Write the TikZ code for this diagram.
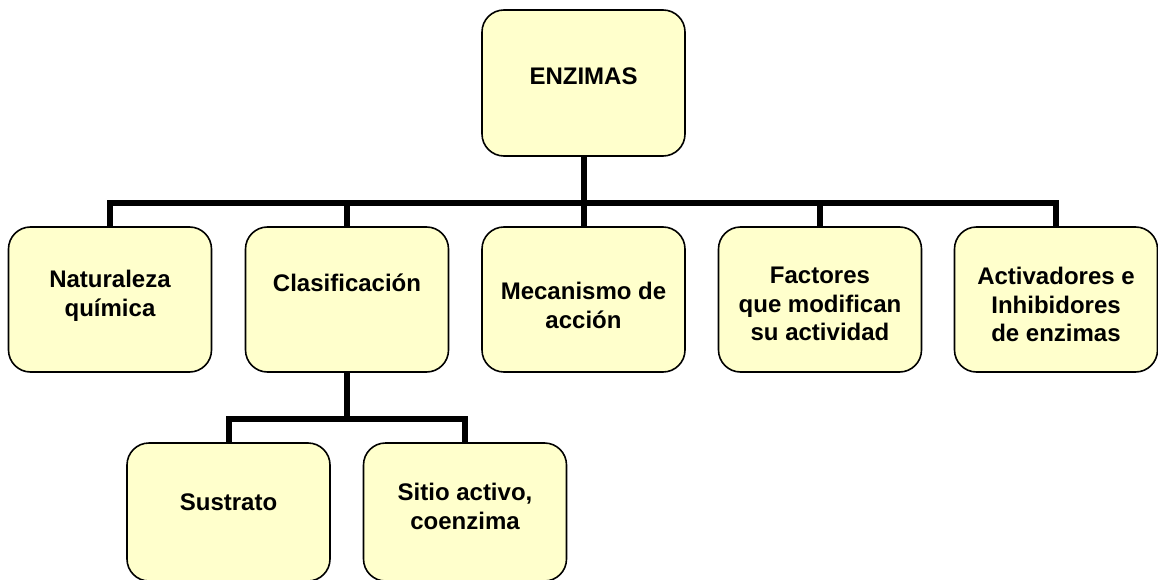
\documentclass[tikz,border=0pt]{standalone}
\usepackage{fontspec}
\setmainfont{Liberation Sans}
\usetikzlibrary{backgrounds}
\definecolor{boxfill}{HTML}{FFFFCC}
\begin{document}
\begin{tikzpicture}[x=1pt,y=-1pt,
  box/.style={draw=black,line width=1.6pt,fill=boxfill,rounded corners=22pt,
    minimum width=203pt,inner sep=0pt,outer sep=0pt},
  rowbox/.style={box,minimum height=145pt},
  lbl/.style={anchor=north,inner sep=0pt,align=center,
    font=\fontsize{24}{28.5}\selectfont\bfseries},
  conn/.style={line width=6pt}]
\useasboundingbox (0,0) rectangle (1158,580);
\clip (0,0) rectangle (1158,580);
% boxes
\node[box,minimum height=146pt] (enz) at (583.5,83) {};
\node[rowbox] (nat) at (110,299.5) {};
\node[rowbox] (clas) at (347,299.5) {};
\node[rowbox] (mec) at (583.5,299.5) {};
\node[rowbox] (fact) at (820,299.5) {};
\node[rowbox] (act) at (1056,299.5) {};
\node[box,minimum height=138pt] (sus) at (228.5,512) {};
\node[box,minimum height=138pt] (sit) at (465,512) {};
% bus coordinates
\coordinate (bus) at (583.5,203);
\coordinate (subbus) at (347,419);
% connectors behind the boxes
\begin{scope}[on background layer]
\draw[conn] (enz.south) -- (bus);
\draw[conn] (nat.north) |- (bus) -| (act.north);
\draw[conn] (clas.north) -- (clas.north |- bus);
\draw[conn] (mec.north) -- (mec.north |- bus);
\draw[conn] (fact.north) -- (fact.north |- bus);
\draw[conn] (clas.south) -- (subbus);
\draw[conn] (sus.north) |- (subbus) -| (sit.north);
\end{scope}
% labels
\node[lbl] (enzT) at (583.5,68) {ENZIMAS};
\node[lbl] (natT) at (110,270) {Naturaleza\\química};
\node[lbl] (clasT) at (347,274) {Clasificación};
\node[lbl] (mecT) at (583.5,282) {Mecanismo de\\acción};
\node[lbl] (factT) at (820,267) {Factores\\que modifican\\su actividad};
\node[lbl] (actT) at (1056,267) {Activadores e\\Inhibidores\\de enzimas};
\node[lbl] (susT) at (228.5,494) {Sustrato};
\node[lbl] (sitT) at (465,483) {Sitio activo,\\coenzima};
\end{tikzpicture}
\end{document}
